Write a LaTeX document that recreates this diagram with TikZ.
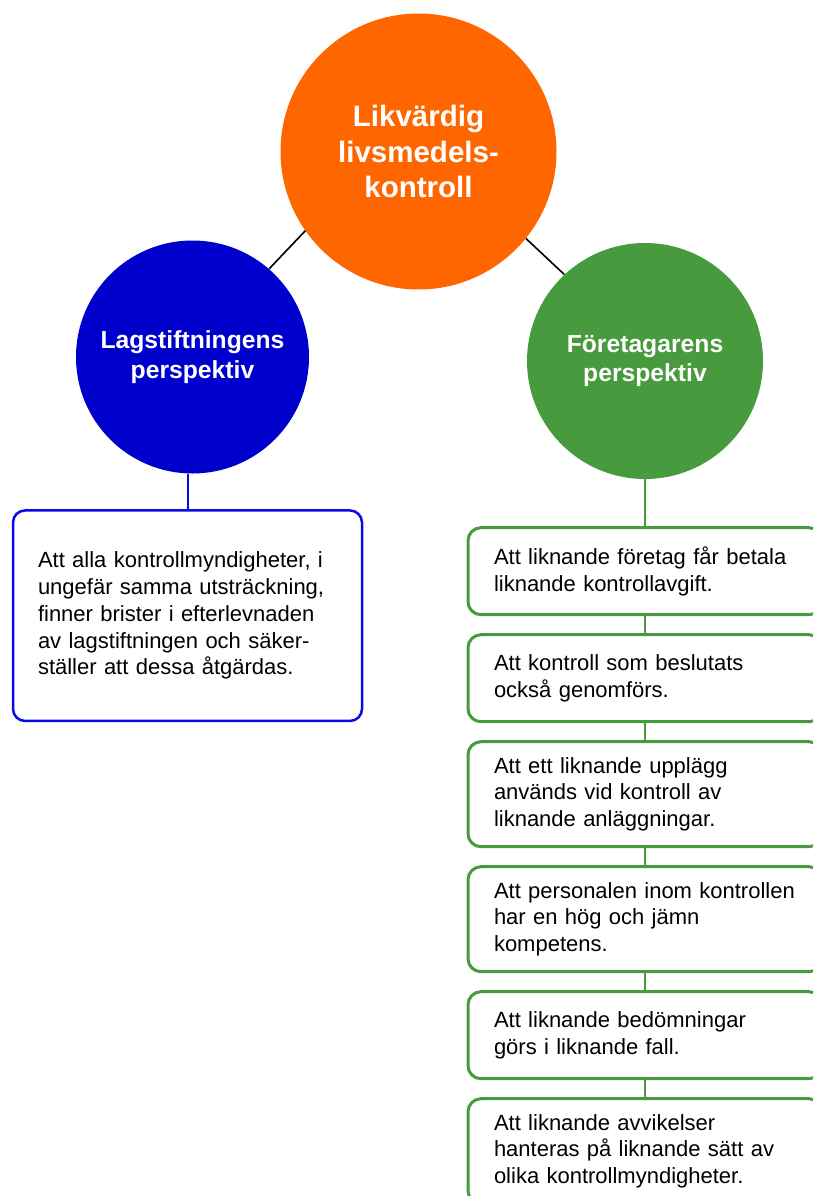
\documentclass[tikz,border=0pt]{standalone}
\usepackage{fontspec}
\setmainfont{Liberation Sans}
\usetikzlibrary{positioning}
\definecolor{goalOrange}{HTML}{FF6600}
\definecolor{lawBlue}{HTML}{0000CC}
\definecolor{lawLine}{HTML}{0A0AE6}
\definecolor{firmGreen}{HTML}{479A3D}

\tikzset{
  perspCircle/.style={circle, inner sep=0pt, text=white, align=center,
    font=\bfseries\fontsize{24.7}{29.8}\selectfont},
  aimBox/.style={rectangle, fill=white, align=left, inner ysep=0pt,
    font=\fontsize{22}{26.7}\selectfont},
  firmBox/.style={aimBox, draw=firmGreen, line width=3pt, rounded corners=13pt,
    text width=302pt, inner xsep=26pt, minimum height=#1},
  firmBox/.default=87pt,
}

\begin{document}
\begin{tikzpicture}[x=1pt, y=-1pt]
  \useasboundingbox (0,0) rectangle (813,1196);
  \clip (0,0) rectangle (813,1196);
  % the three perspectives
  \node[perspCircle, fill=goalOrange, minimum size=276pt,
    font=\bfseries\fontsize{29.5}{35.8}\selectfont] (goal) at (418.5,151.5)
    {Likvärdig\\livsmedels-\\kontroll};
  \node[perspCircle, fill=lawBlue, minimum size=233pt] (law) at (192.5,357)
    {Lagstiftningens\\perspektiv};
  \node[perspCircle, fill=firmGreen, minimum size=236pt] (firm) at (645,361)
    {Företagarens\\perspektiv};
  \draw[line width=1.6pt] (goal.215) -- (law.49);
  \draw[line width=1.6pt] (goal.321) -- (firm.133);

  % legislation side
  \node[aimBox, draw=lawLine, line width=2.5pt, rounded corners=12pt,
    text width=299pt, inner xsep=25pt, minimum height=210.5pt,
    below=35.5pt of law, xshift=-5pt] (lawText)
    {Att alla kontrollmyndigheter, i\\ungefär samma utsträckning,\\finner brister i efterlevnaden\\av lagstiftningen och säker-\\ställer att dessa åtgärdas.};
  \draw[draw=lawLine, line width=2pt] (lawText.north) -- (lawText.north |- law.south);

  % business side
  \node[firmBox, below=47pt of firm] (firmA)
    {Att liknande företag får betala\\liknande kontrollavgift.};
  \node[firmBox, below=17pt of firmA] (firmB)
    {Att kontroll som beslutats\\också genomförs.};
  \node[firmBox=105pt, below=17pt of firmB] (firmC)
    {Att ett liknande upplägg\\används vid kontroll av\\liknande anläggningar.};
  \node[firmBox=105pt, below=17pt of firmC] (firmD)
    {Att personalen inom kontrollen\\har en hög och jämn\\kompetens.};
  \node[firmBox, below=17pt of firmD] (firmE)
    {Att liknande bedömningar\\görs i liknande fall.};
  \node[firmBox=105pt, below=17pt of firmE] (firmF)
    {Att liknande avvikelser\\hanteras på liknande sätt av\\olika kontrollmyndigheter.};
  \foreach \a/\b in {firm/firmA, firmA/firmB, firmB/firmC, firmC/firmD, firmD/firmE, firmE/firmF}
    \draw[draw=firmGreen, line width=2pt] (\a) -- (\b);
\end{tikzpicture}
\end{document}
